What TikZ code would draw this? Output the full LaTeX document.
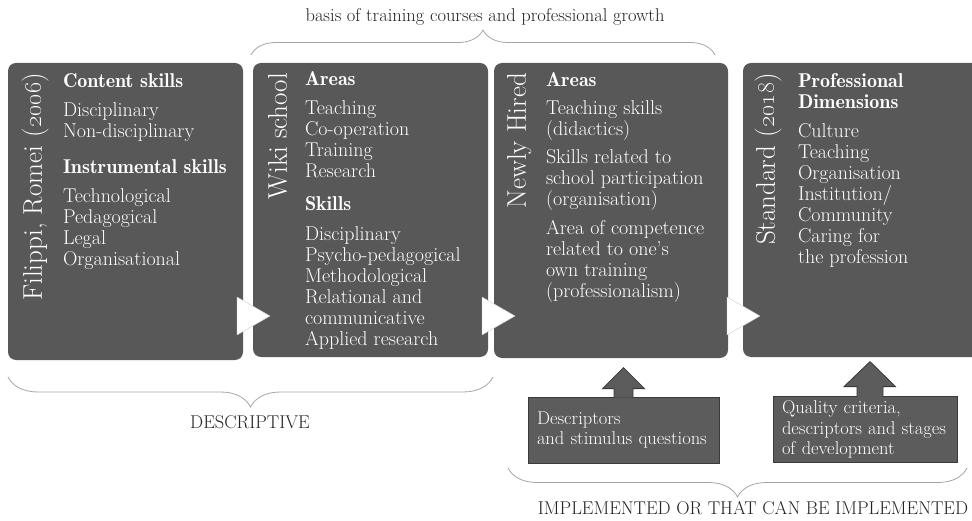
\documentclass[tikz,border=0pt]{standalone}
\usetikzlibrary{decorations.pathreplacing,calc}
\definecolor{panelgray}{RGB}{88,88,88}
\definecolor{calloutgray}{RGB}{92,92,92}
\definecolor{calloutline}{RGB}{58,58,58}
\definecolor{bracegray}{RGB}{165,165,165}
\definecolor{labelgray}{RGB}{35,35,35}
\newcommand{\hd}[1]{{\fontseries{b}\selectfont #1}}
\tikzset{
  panel/.style={fill=panelgray, rounded corners=8pt, inner sep=0pt, minimum width=235pt},
  paneltitle/.style={rotate=90, anchor=base east, inner sep=0pt, text=white, font=\fontsize{27}{30}\selectfont},
  panelbody/.style={anchor=north west, inner sep=0pt, align=left, text=white, font=\fontsize{20}{21}\selectfont},
  chevron/.style={fill=white, draw=gray!40, line width=0.4pt},
  callout/.style={fill=calloutgray, draw=calloutline, line width=0.8pt},
  calloutbox/.style={callout, minimum height=66pt, inner xsep=9pt, inner ysep=3pt, align=left, text=white, font=\fontsize{18.5}{20.5}\selectfont},
  bracket/.style={draw=bracegray, line width=0.8pt, decorate, decoration={brace, amplitude=#1}},
  bracelabel/.style={text=labelgray, font=\fontsize{18.5}{21}\selectfont}
}
\begin{document}
\begin{tikzpicture}[x=1pt,y=1pt]
\useasboundingbox (0,0) rectangle (972,520);
\node[panel, minimum height=297pt] (filippi) at (125.5,308.5) {};
\node[panel, minimum height=294pt] (wiki) at (370.5,310) {};
\node[panel, minimum width=234pt, minimum height=295pt] (hired) at (611,309.5) {};
\node[panel, minimum width=240pt, minimum height=294pt] (standard) at (863,310) {};
\foreach \bx in {237,482,727}
  \filldraw[chevron] (\bx,223) -- (\bx+33,204) -- (\bx,185) -- cycle;
\node[paneltitle] at ([xshift=34pt,yshift=-10pt]filippi.north west) {Filippi, Romei (\oldstylenums{2006})};
\node[paneltitle] at ([xshift=34pt,yshift=-10pt]wiki.north west) {Wiki school};
\node[paneltitle] at ([xshift=32pt,yshift=-10pt]hired.north west) {Newly Hired};
\node[paneltitle] at ([xshift=32pt,yshift=-10pt]standard.north west) {Standard (\oldstylenums{2018})};
\node[panelbody] (filippitext) at ([xshift=55pt,yshift=-10.5pt]filippi.north west) {\hd{Content skills}\\[8pt]
  Disciplinary\\ Non-disciplinary\\[15pt]
  \hd{Instrumental skills}\\[8pt]
  Technological\\ Pedagogical\\ Legal\\ Organisational};
\node[panelbody] (wikitext) at ([xshift=52pt,yshift=-8.5pt]wiki.north west) {\hd{Areas}\\[8pt]
  Teaching\\ Co-operation\\ Training\\ Research\\[12pt]
  \hd{Skills}\\[9pt]
  Disciplinary\\ Psycho-pedagogical\\ Methodological\\ Relational and\\ communicative\\ Applied research};
\node[panelbody] (hiredtext) at ([xshift=52pt,yshift=-9.5pt]hired.north west) {\hd{Areas}\\[7pt]
  Teaching skills\\ (didactics)\\[7pt]
  Skills related to\\ school participation\\ (organisation)\\[8pt]
  Area of competence\\ related to one's\\ own training\\ (professionalism)};
\node[panelbody] (standardtext) at ([xshift=55pt,yshift=-10.5pt]standard.north west) {\hd{Professional}\\ \hd{Dimensions}\\[8pt]
  Culture\\ Teaching\\ Organisation\\ Institution/\\ Community\\ Caring for\\ the profession};
\node[calloutbox, text width=173pt] (descr) at (623.5,90) {Descriptors\\and stimulus questions};
\node[calloutbox, text width=166pt] (quality) at (865,90.5) {Quality criteria,\\descriptors and stages\\of development};
\filldraw[callout] ($(descr.north)+(-9.5,-1)$) -- ++(0,9) -- ++(-11.5,0) -- ++(21,21) -- ++(21,-21) -- ++(-11.5,0) -- ++(0,-9);
\filldraw[callout] ($(quality.north)+(-8,-1)$) -- ++(0,10.5) -- ++(-13,0) -- ++(26,25) -- ++(25.5,-25) -- ++(-12.5,0) -- ++(0,-10.5);
\draw[bracket=25] (251,465) -- (715,465);
\draw[bracket=30] (493,143) -- (8,143);
\draw[bracket=29] (967,52) -- (508,52);
\node[bracelabel] (basis) at (485,503) {basis of training courses and professional growth};
\node[bracelabel] (descriptive) at (250,98) {DESCRIPTIVE};
\node[bracelabel] (implemented) at (753,12) {IMPLEMENTED OR THAT CAN BE IMPLEMENTED};
\end{tikzpicture}
\end{document}
